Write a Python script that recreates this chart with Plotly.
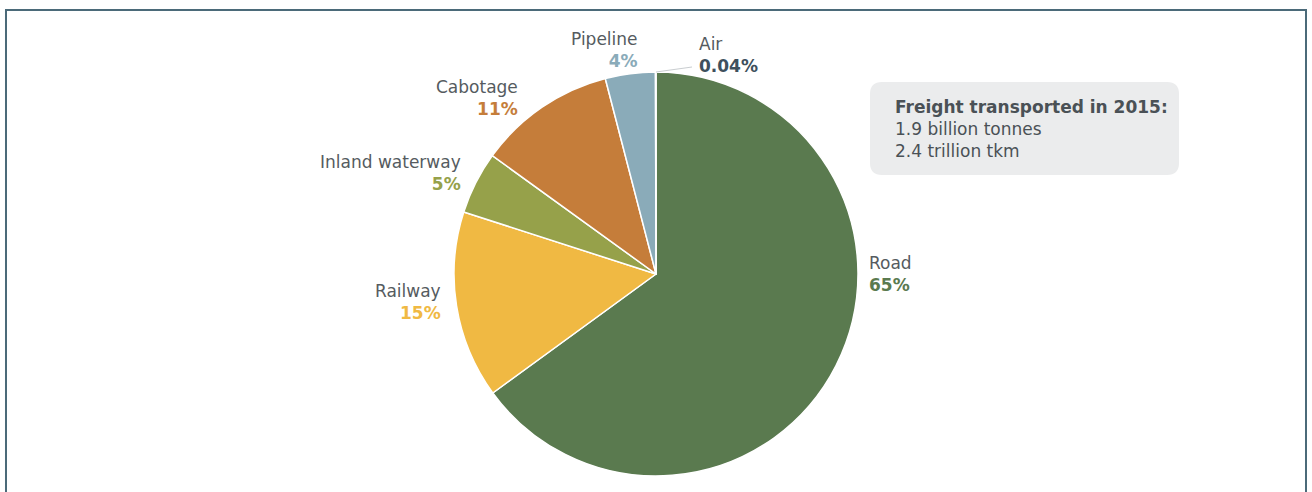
import plotly.graph_objects as go

# ---- data ----
modes = ["Road", "Railway", "Inland waterway", "Cabotage", "Pipeline", "Air"]
shares = [65, 15, 5, 11, 4, 0.04]
share_labels = ["65%", "15%", "5%", "11%", "4%", "0.04%"]
colors = ["#5a7a4f", "#f0b943", "#96a14a", "#c57d3a", "#8aabb9", "#3e505d"]
info_title = "Freight transported in 2015:"
info_lines = ["1.9 billion tonnes", "2.4 trillion tkm"]

W, H = 1312, 492
FONT = "DejaVu Sans"
GREY = "#555b60"


def px(x):
    return x / W


def py(y):
    return 1 - y / H


# pie geometry (pixels)
cx, cy, r = 656, 274, 202

fig = go.Figure(go.Pie(
    labels=modes,
    values=shares,
    sort=False,
    direction="clockwise",
    rotation=0,
    marker=dict(colors=colors, line=dict(color="white", width=1.5)),
    textinfo="none",
    hoverinfo="label+percent",
    showlegend=False,
    domain=dict(x=[px(cx - r), px(cx + r)], y=[py(cy + r), py(cy - r)]),
))

# label positions: (x, y_center, anchor)
label_pos = {
    "Road": (867, 274, "left"),
    "Railway": (443, 302, "right"),
    "Inland waterway": (463, 173, "right"),
    "Cabotage": (520, 98, "right"),
    "Pipeline": (640, 50, "right"),
    "Air": (697, 55, "left"),
}

annotations = []
for m, lab, c in zip(modes, share_labels, colors):
    x, y, anc = label_pos[m]
    annotations.append(dict(
        x=px(x), y=py(y), xref="paper", yref="paper",
        xanchor=anc, yanchor="middle", align=anc, showarrow=False,
        text=f"<span style='color:{GREY}'>{m}</span><br><b><span style='color:{c}'>{lab}</span></b>",
        font=dict(family=FONT, size=17, color=GREY),
    ))

# info box text
annotations.append(dict(
    x=px(893), y=py(129), xref="paper", yref="paper",
    xanchor="left", yanchor="middle", align="left", showarrow=False,
    text=f"<b>{info_title}</b><br>" + "<br>".join(info_lines),
    font=dict(family=FONT, size=17, color="#4a5156"),
))

# rounded info box path
bx0, by0, bx1, by1, rad = 870, 82, 1179, 175, 12


def P(x, y):
    return f"{px(x):.6f},{py(y):.6f}"


box_path = (
    f"M {P(bx0 + rad, by0)} L {P(bx1 - rad, by0)} Q {P(bx1, by0)} {P(bx1, by0 + rad)} "
    f"L {P(bx1, by1 - rad)} Q {P(bx1, by1)} {P(bx1 - rad, by1)} "
    f"L {P(bx0 + rad, by1)} Q {P(bx0, by1)} {P(bx0, by1 - rad)} "
    f"L {P(bx0, by0 + rad)} Q {P(bx0, by0)} {P(bx0 + rad, by0)} Z"
)

shapes = [
    # outer frame (open at the bottom)
    dict(type="path", xref="paper", yref="paper",
         path=f"M {P(6, 520)} L {P(6, 10)} L {P(1306, 10)} L {P(1306, 520)}",
         line=dict(color="#4b6a79", width=2)),
    dict(type="path", xref="paper", yref="paper", path=box_path,
         fillcolor="#ebeced", line=dict(width=0), layer="below"),
    # leader line for Air
    dict(type="line", xref="paper", yref="paper",
         x0=px(cx), y0=py(cy - r), x1=px(692), y1=py(67),
         line=dict(color="#c9cdd0", width=1)),
]

fig.update_layout(
    width=W, height=H,
    margin=dict(l=0, r=0, t=0, b=0),
    paper_bgcolor="white", plot_bgcolor="white",
    annotations=annotations,
    shapes=shapes,
)

fig.write_html("out.html", config={"displayModeBar": False},
               post_script="document.body.style.margin='0';")
